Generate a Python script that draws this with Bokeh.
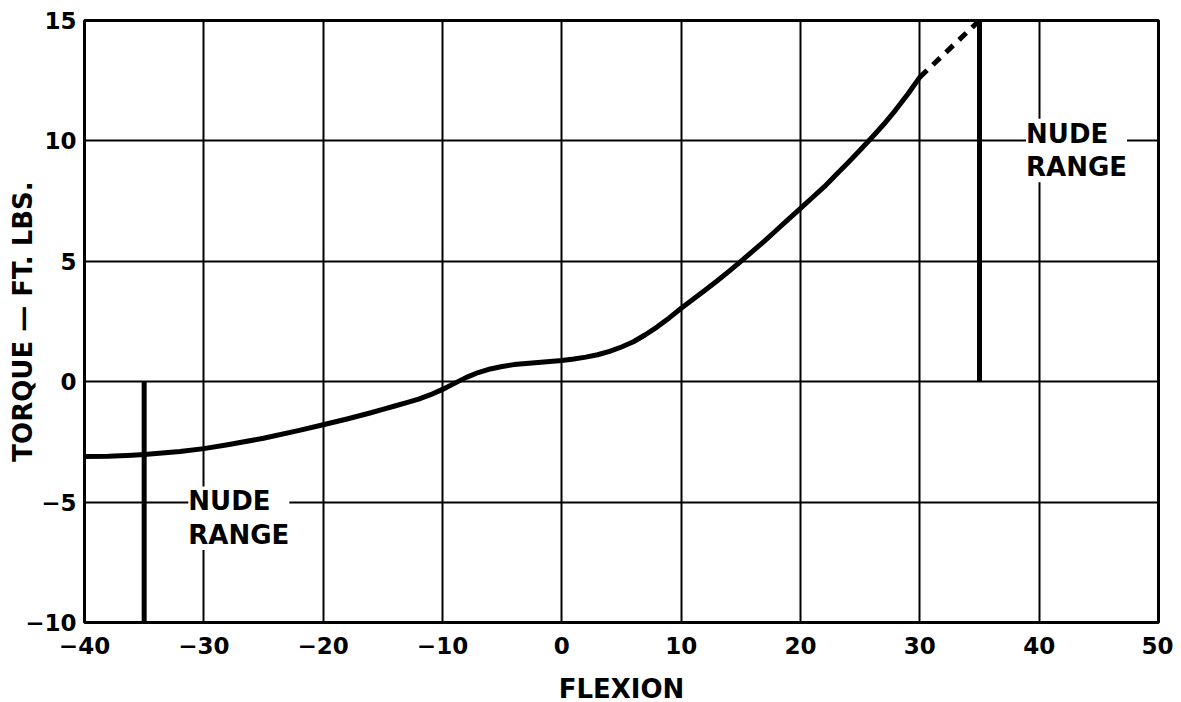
from bokeh.plotting import figure
from bokeh.models import Range1d, FixedTicker, Label
from bokeh.embed import file_html
from bokeh.resources import INLINE

# Data
flexion = [-40, -38, -36, -35, -32, -30, -28, -25, -22, -20, -18, -16, -15, -14, -13, -12, -11, -10, -9, -8, -7, -6, -5, -4, -3, -2, -1, 0,
           1, 2, 3, 4, 5, 6, 7, 8, 9, 10, 11, 12, 13, 14, 15, 16, 17, 18, 19, 20, 21, 22, 23, 24, 25, 26, 27, 28, 29, 30]
torque = [-3.11, -3.1, -3.05, -3.02, -2.9, -2.78, -2.62, -2.35, -2.02, -1.79, -1.55, -1.29, -1.15, -1.01, -0.87, -0.72, -0.54, -0.32, -0.07, 0.18, 0.38, 0.53, 0.63, 0.71, 0.76, 0.8, 0.84, 0.88,
          0.94, 1.02, 1.12, 1.26, 1.44, 1.66, 1.95, 2.28, 2.65, 3.05, 3.42, 3.8, 4.18, 4.58, 5.0, 5.42, 5.85, 6.3, 6.75, 7.2, 7.65, 8.1, 8.6, 9.1, 9.62, 10.15, 10.7, 11.3, 11.95, 12.65]
dash_x = [30, 35]
dash_y = [12.65, 15.0]

nude_left_x = [-35, -35]
nude_left_y = [-10, 0]
nude_right_x = [35, 35]
nude_right_y = [0, 15]

label_x = [-31.3, 38.9]
label_y = [-5.67, 9.6]
label_text = ["NUDE\nRANGE", "NUDE\nRANGE"]

x_ticks = [-40, -30, -20, -10, 0, 10, 20, 30, 40, 50]
y_ticks = [-10, -5, 0, 5, 10, 15]
x_tick_labels = ["\u221240", "\u221230", "\u221220", "\u221210", "0", "10", "20", "30", "40", "50"]
y_tick_labels = ["\u221210", "\u22125", "0", "5", "10", "15"]

FONT = "DejaVu Sans"

p = figure(frame_width=1074, frame_height=602,
           x_range=Range1d(-40, 50), y_range=Range1d(-10, 15),
           output_backend="svg", toolbar_location=None,
           min_border_left=84, min_border_top=20, min_border_right=15, min_border_bottom=60)

p.background_fill_color = "white"
p.border_fill_color = "white"
p.outline_line_color = "black"
p.outline_line_width = 3

p.xaxis.ticker = FixedTicker(ticks=x_ticks)
p.yaxis.ticker = FixedTicker(ticks=y_ticks)
p.xaxis.major_label_overrides = dict(zip(x_ticks, x_tick_labels))
p.yaxis.major_label_overrides = dict(zip(y_ticks, y_tick_labels))

for ax in (p.xaxis, p.yaxis):
    ax.axis_line_color = None
    ax.major_tick_line_color = None
    ax.minor_tick_line_color = None
    ax.major_label_text_font = FONT
    ax.major_label_text_font_style = "bold"
    ax.major_label_text_font_size = "23px"
    ax.major_label_text_color = "black"
    ax.axis_label_text_font = FONT
    ax.axis_label_text_font_style = "bold"
    ax.axis_label_text_font_size = "26px"
    ax.axis_label_text_color = "black"

p.xaxis.axis_label = "FLEXION"
p.yaxis.axis_label = "TORQUE \u2014 FT. LBS."
p.xaxis.major_label_standoff = 8
p.yaxis.major_label_standoff = 2
p.xaxis.axis_label_standoff = 17
p.yaxis.axis_label_standoff = -16

for g in (p.xgrid, p.ygrid):
    g.grid_line_color = "black"
    g.grid_line_width = 2
    g.grid_line_alpha = 1.0
p.xgrid.ticker = FixedTicker(ticks=x_ticks)
p.ygrid.ticker = FixedTicker(ticks=y_ticks)

p.line(flexion, torque, line_color="black", line_width=5, line_join="round", line_cap="round")
p.line(dash_x, dash_y, line_color="black", line_width=5, line_dash="10 8")
p.line(nude_left_x, nude_left_y, line_color="black", line_width=5)
p.line(nude_right_x, nude_right_y, line_color="black", line_width=5)

for lx, ly, lt in zip(label_x, label_y, label_text):
    p.add_layout(Label(x=lx, y=ly, text=lt, text_align="left", text_baseline="middle",
                       text_font=FONT, text_font_style="bold", text_font_size="26px",
                       text_color="black", text_line_height=1.12,
                       background_fill_color="white", background_fill_alpha=1.0))

open("out.html", "w").write(file_html(p, INLINE))
